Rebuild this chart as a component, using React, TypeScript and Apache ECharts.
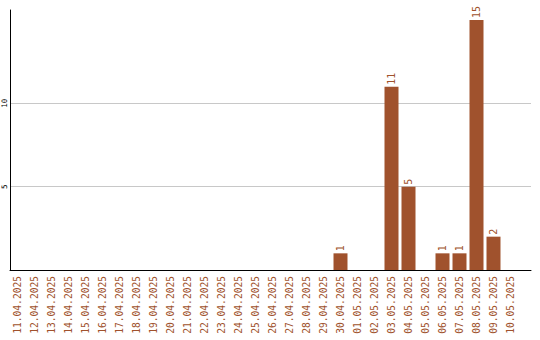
import React, { useEffect, useRef } from "react";
import * as echarts from "echarts";

const dates = [
  "11.04.2025", "12.04.2025", "13.04.2025", "14.04.2025", "15.04.2025",
  "16.04.2025", "17.04.2025", "18.04.2025", "19.04.2025", "20.04.2025",
  "21.04.2025", "22.04.2025", "23.04.2025", "24.04.2025", "25.04.2025",
  "26.04.2025", "27.04.2025", "28.04.2025", "29.04.2025", "30.04.2025",
  "01.05.2025", "02.05.2025", "03.05.2025", "04.05.2025", "05.05.2025",
  "06.05.2025", "07.05.2025", "08.05.2025", "09.05.2025", "10.05.2025",
];

const counts = [
  0, 0, 0, 0, 0,
  0, 0, 0, 0, 0,
  0, 0, 0, 0, 0,
  0, 0, 0, 0, 1,
  0, 0, 11, 5, 0,
  1, 1, 15, 2, 0,
];

const yMax = 15.6;
const gridMax = 10;
const gridStep = 5;

const BROWN = "#a0522d";
const MONO = "'DejaVu Sans Mono', 'Liberation Mono', monospace";

export default function App() {
  const ref = useRef<HTMLDivElement>(null);

  useEffect(() => {
    document.body.style.margin = "0";
    if (!ref.current) return;
    const chart = echarts.init(ref.current, null, { renderer: "svg" });

    const top = 10;
    const bottom = 70;
    const plotH = 340 - top - bottom;
    const gridTop = 340 - bottom - (gridMax / yMax) * plotH;

    chart.setOption({
      animation: false,
      backgroundColor: "#ffffff",
      grid: [
        { left: 10, right: 9, top, bottom },
        { left: 9, width: 510, top, bottom },
        { left: 10, right: 9, top: gridTop, bottom },
      ],
      xAxis: [
        {
          gridIndex: 0,
          type: "value",
          min: 0,
          max: 1,
          axisLine: { show: true, lineStyle: { color: "#000", width: 1 } },
          axisTick: { show: false },
          axisLabel: { show: false },
          splitLine: { show: false },
        },
        {
          gridIndex: 1,
          type: "category",
          data: dates,
          axisLine: { show: false },
          axisTick: { show: false },
          axisLabel: {
            interval: 0,
            rotate: 90,
            margin: 6,
            fontSize: 9.6,
            fontFamily: MONO,
            color: BROWN,
          },
          splitLine: { show: false },
        },
        { gridIndex: 2, type: "value", show: false, min: 0, max: 1 },
      ],
      yAxis: [
        {
          gridIndex: 0,
          type: "value",
          min: 0,
          max: yMax,
          axisLine: { show: true, lineStyle: { color: "#000", width: 1 } },
          axisTick: { show: false },
          axisLabel: { show: false },
          splitLine: { show: false },
        },
        { gridIndex: 1, type: "value", min: 0, max: yMax, show: false },
        {
          gridIndex: 2,
          type: "value",
          min: 0,
          max: gridMax,
          interval: gridStep,
          axisLine: { show: false },
          axisTick: { show: false },
          axisLabel: {
            rotate: 90,
            margin: 3,
            fontSize: 7.5,
            fontFamily: MONO,
            color: "#000",
            formatter: (v: number) => (v === 0 ? "" : String(v)),
          },
          splitLine: { show: true, lineStyle: { color: "#c8c8c8", width: 1 } },
        },
      ],
      series: [
        {
          type: "bar",
          xAxisIndex: 1,
          yAxisIndex: 1,
          data: counts,
          barWidth: 14,
          itemStyle: { color: BROWN },
          label: {
            show: true,
            position: "top",
            rotate: 90,
            align: "left",
            verticalAlign: "middle",
            distance: 2,
            fontSize: 10,
            fontFamily: MONO,
            color: BROWN,
            formatter: (p: any) => (p.value ? String(p.value) : ""),
          },
        },
      ],
    });

    return () => chart.dispose();
  }, []);

  return <div ref={ref} style={{ width: 540, height: 340 }} />;
}
